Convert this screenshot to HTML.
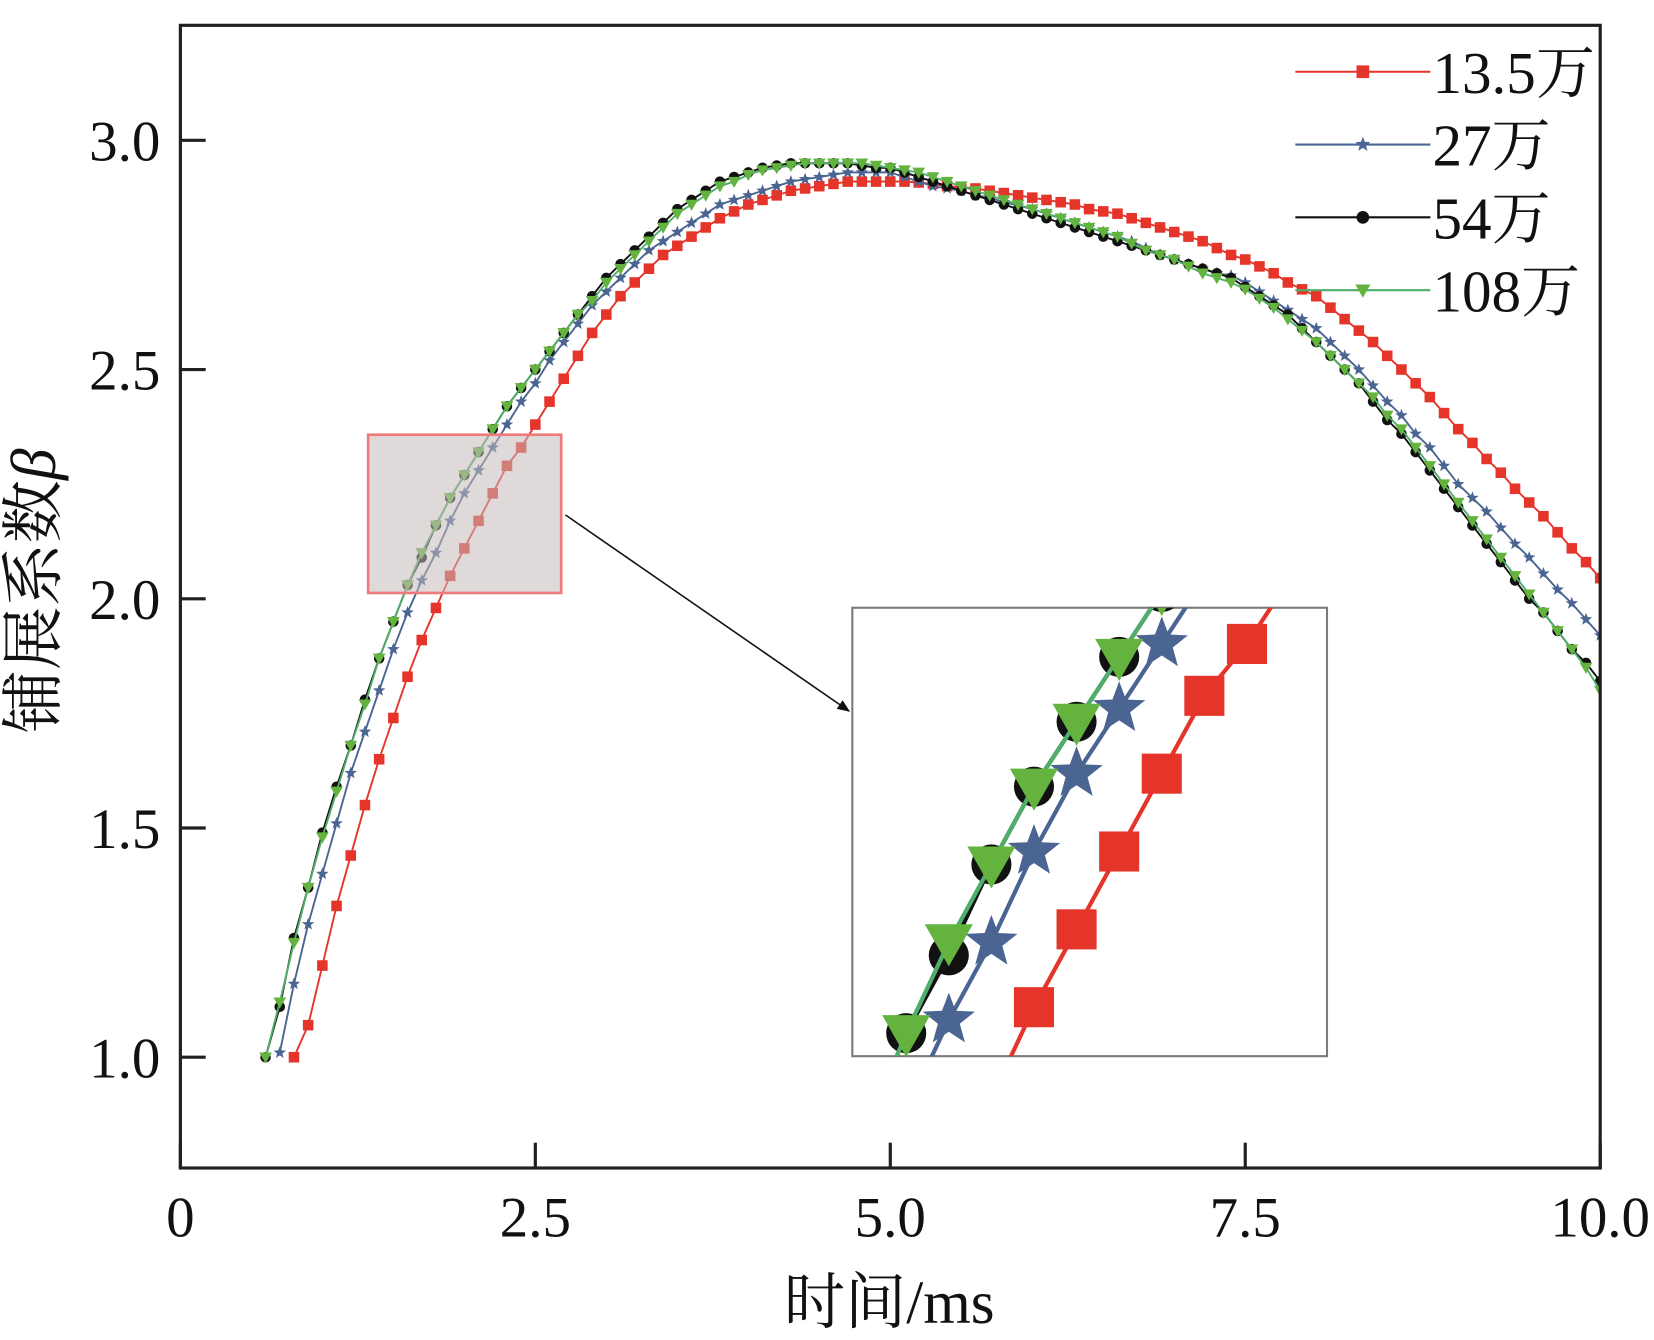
<!DOCTYPE html>
<html><head><meta charset="utf-8"><style>
html,body{margin:0;padding:0;background:#fff;overflow:hidden;width:1654px;height:1340px;}
svg{display:block;}
</style></head><body>
<svg id="chart" width="1654" height="1340" viewBox="0 0 1568 1270" preserveAspectRatio="none" xmlns="http://www.w3.org/2000/svg">
<defs>
<clipPath id="plotclip"><rect x="171" y="24" width="1346" height="1083"/></clipPath>
<clipPath id="insetclip"><rect x="808" y="576" width="450" height="425"/></clipPath>
<marker id="arrowhead" markerWidth="12" markerHeight="10" refX="11" refY="5" orient="auto" markerUnits="userSpaceOnUse"><path d="M0,0 L12,5 L0,10 Z" fill="#111"/></marker>
</defs>
<rect x="0" y="0" width="1568" height="1270" fill="#fff"/>
<g id="series-main" clip-path="url(#plotclip)"></g>
<rect x="349" y="412" width="183" height="150" fill="rgba(196,186,186,0.55)" stroke="#ee7b7b" stroke-width="2.5"/>
<line x1="536" y1="488" x2="805" y2="674" stroke="#111" stroke-width="1.5" marker-end="url(#arrowhead)"/>
<rect x="808" y="576" width="450" height="425" fill="#fff" stroke="#7a7a7a" stroke-width="2"/>
<g id="series-inset" clip-path="url(#insetclip)"></g>
<g id="axes"></g>
<g id="legend"></g>
<text x="843" y="1254" text-anchor="middle" font-family="'Liberation Serif','Noto Serif CJK SC',serif" font-size="58" fill="#111">时间/ms</text>
<text transform="translate(52,560) rotate(-90)" text-anchor="middle" font-family="'Liberation Serif','Noto Serif CJK SC',serif" font-size="60" fill="#111">铺展系数<tspan font-style="italic">β</tspan></text>
</svg>
<script>
const seriesNames = ["13.5万","27万","54万","108万"];
const startTimes = [0.8, 0.7, 0.6, 0.6];
const timeStep = 0.1;
const red = [1.00,1.07,1.20,1.33,1.44,1.55,1.65,1.74,1.83,1.91,1.98,2.05,2.11,2.17,2.23,2.29,2.33,2.38,2.43,2.48,2.53,2.58,2.62,2.66,2.69,2.72,2.75,2.77,2.79,2.81,2.83,2.845,2.86,2.87,2.88,2.89,2.895,2.90,2.905,2.91,2.91,2.91,2.91,2.91,2.908,2.905,2.90,2.898,2.895,2.89,2.885,2.88,2.875,2.87,2.865,2.86,2.85,2.845,2.84,2.83,2.82,2.81,2.80,2.79,2.78,2.765,2.75,2.74,2.725,2.71,2.69,2.675,2.66,2.635,2.61,2.585,2.56,2.53,2.50,2.47,2.44,2.405,2.37,2.34,2.305,2.275,2.24,2.21,2.18,2.145,2.11,2.08,2.045];
const blue = [1.01,1.16,1.29,1.40,1.51,1.62,1.71,1.80,1.89,1.97,2.04,2.10,2.17,2.23,2.28,2.33,2.38,2.43,2.47,2.52,2.56,2.60,2.64,2.67,2.70,2.73,2.76,2.78,2.80,2.82,2.84,2.86,2.87,2.88,2.89,2.90,2.91,2.915,2.92,2.925,2.93,2.93,2.93,2.93,2.92,2.91,2.90,2.895,2.89,2.88,2.875,2.865,2.858,2.85,2.84,2.83,2.82,2.81,2.80,2.79,2.78,2.765,2.75,2.74,2.73,2.72,2.71,2.705,2.69,2.67,2.65,2.63,2.61,2.59,2.56,2.53,2.50,2.465,2.43,2.40,2.36,2.33,2.29,2.25,2.22,2.19,2.155,2.12,2.09,2.055,2.02,1.99,1.955,1.92];
const black = [1.00,1.11,1.26,1.37,1.49,1.59,1.68,1.78,1.87,1.95,2.03,2.09,2.16,2.22,2.27,2.32,2.37,2.42,2.46,2.50,2.54,2.58,2.62,2.66,2.70,2.73,2.76,2.79,2.82,2.85,2.87,2.89,2.91,2.92,2.93,2.94,2.945,2.95,2.95,2.95,2.95,2.95,2.945,2.94,2.94,2.93,2.92,2.91,2.90,2.89,2.88,2.87,2.86,2.85,2.84,2.83,2.82,2.81,2.80,2.79,2.78,2.77,2.76,2.75,2.74,2.73,2.72,2.71,2.70,2.68,2.66,2.64,2.62,2.59,2.56,2.53,2.50,2.47,2.43,2.39,2.36,2.32,2.28,2.24,2.20,2.16,2.12,2.08,2.04,2.00,1.97,1.93,1.89,1.86,1.82];
const green = [1.00,1.12,1.25,1.37,1.48,1.58,1.68,1.77,1.87,1.95,2.03,2.10,2.16,2.22,2.27,2.32,2.37,2.42,2.46,2.50,2.54,2.58,2.62,2.65,2.69,2.72,2.75,2.78,2.81,2.84,2.86,2.88,2.90,2.91,2.925,2.935,2.94,2.945,2.95,2.95,2.95,2.95,2.95,2.945,2.94,2.935,2.93,2.92,2.91,2.90,2.89,2.88,2.87,2.86,2.85,2.84,2.83,2.82,2.81,2.80,2.79,2.775,2.76,2.75,2.74,2.725,2.71,2.70,2.69,2.675,2.655,2.635,2.61,2.585,2.56,2.53,2.50,2.47,2.44,2.40,2.37,2.33,2.29,2.25,2.21,2.17,2.13,2.09,2.05,2.01,1.97,1.93,1.89,1.85,1.80];
const xTicks = [0, 2.5, 5.0, 7.5, 10.0];
const xTickLabels = ["0","2.5","5.0","7.5","10.0"];
const yTicks = [1.0, 1.5, 2.0, 2.5, 3.0];
const yTickLabels = ["1.0","1.5","2.0","2.5","3.0"];

const NS = "http://www.w3.org/2000/svg";
const X0 = 171, X1 = 1517, Y0 = 24, Y1 = 1107;
function xs(t){ return X0 + (t - 0) / 10 * (X1 - X0); }
function ys(v){ return 1002 - (v - 1.0) * 434.5; }
function inX(mx){ return 747 + (mx - 349) * 3.0; }
function inY(my){ return 576 + (my - 412) * 2.83; }
const colors = ["#e5342a", "#4b6592", "#111111", "#63b33e"];
const lineColors = ["#e5342a", "#4b6592", "#111111", "#4fae6a"];
const shapes = ["square", "star", "circle", "tri"];
const allData = [red, blue, black, green];

function el(tag, attrs, parent){
  const e = document.createElementNS(NS, tag);
  for (const k in attrs) e.setAttribute(k, attrs[k]);
  parent.appendChild(e);
  return e;
}
function starPath(cx, cy, r){
  let d = "";
  for (let i = 0; i < 10; i++){
    const rr = i % 2 === 0 ? r : r * 0.42;
    const a = -Math.PI/2 + i * Math.PI/5;
    d += (i ? "L" : "M") + (cx + rr*Math.cos(a)).toFixed(1) + "," + (cy + rr*Math.sin(a)).toFixed(1);
  }
  return d + "Z";
}
function marker(shape, cx, cy, s, color, parent){
  let m;
  if (shape === "square") m = el("rect", {x: cx - s/2, y: cy - s/2, width: s, height: s, fill: color}, parent);
  else if (shape === "circle") m = el("circle", {cx: cx, cy: cy, r: s/2, fill: color}, parent);
  else if (shape === "tri") m = el("path", {d: `M${cx - s*0.6},${cy - s*0.45} L${cx + s*0.6},${cy - s*0.45} L${cx},${cy + s*0.6} Z`, fill: color}, parent);
  else m = el("path", {d: starPath(cx, cy, s*0.62), fill: color}, parent);
  return m;
}

const mainG = document.getElementById("series-main");
const insetG = document.getElementById("series-inset");
allData.forEach((vals, si) => {
  const pts = vals.map((v, i) => [xs(startTimes[si] + i * timeStep), ys(v)]);
  const g = el("g", {}, mainG);
  
  
  const line = el("polyline", {points: pts.map(p => p.join(",")).join(" "), fill: "none", stroke: lineColors[si], "stroke-width": 1.8}, g);
  
  
  pts.forEach(p => {
    const m = marker(shapes[si], p[0], p[1], 10, colors[si], g);
    
    
  });
  const gi = el("g", {}, insetG);
  
  
  const ipts = pts.map(p => [inX(p[0]), inY(p[1])]);
  const iline = el("polyline", {points: ipts.map(p => p.join(",")).join(" "), fill: "none", stroke: lineColors[si], "stroke-width": 4}, gi);
  
  
  ipts.forEach(p => {
    if (p[0] < 780 || p[0] > 1290 || p[1] < 550 || p[1] > 1030) return;
    const m = marker(shapes[si], p[0], p[1], si === 1 ? 42 : 38, colors[si], gi);
    
    
  });
});

// axes
const ax = document.getElementById("axes");
el("rect", {x: X0, y: Y0, width: X1 - X0, height: Y1 - Y0, fill: "none", stroke: "#231f1c", "stroke-width": 3}, ax);
xTicks.forEach((t, i) => {
  const x = xs(t);
  const tk = el("line", {x1: x, y1: Y1, x2: x, y2: Y1 - 24, stroke: "#231f1c", "stroke-width": 3}, ax);
  
  
  const lb = el("text", {x: x, y: 1172, "text-anchor": "middle", "font-family": "'Liberation Serif',serif", "font-size": 54, fill: "#111"}, ax);
  lb.textContent = xTickLabels[i];
  
  
});
yTicks.forEach((v, i) => {
  const y = ys(v);
  const tk = el("line", {x1: X0, y1: y, x2: X0 + 24, y2: y, stroke: "#231f1c", "stroke-width": 3}, ax);
  
  
  const lb = el("text", {x: 152, y: y + 19, "text-anchor": "end", "font-family": "'Liberation Serif',serif", "font-size": 54, fill: "#111"}, ax);
  lb.textContent = yTickLabels[i];
  
  
});

// legend
const lg = document.getElementById("legend");
seriesNames.forEach((n, i) => {
  const y = 68 + i * 69;
  const g = el("g", {}, lg);
  
  
  el("line", {x1: 1228, y1: y, x2: 1356, y2: y, stroke: lineColors[i], "stroke-width": 2}, g);
  marker(shapes[i], 1292, y, 12, colors[i], g);
  const t = el("text", {x: 1358, y: y + 20, "font-family": "'Liberation Serif','Noto Serif CJK SC',serif", "font-size": 56, fill: "#111"}, g);
  t.textContent = n;
});
</script>
</body></html>
